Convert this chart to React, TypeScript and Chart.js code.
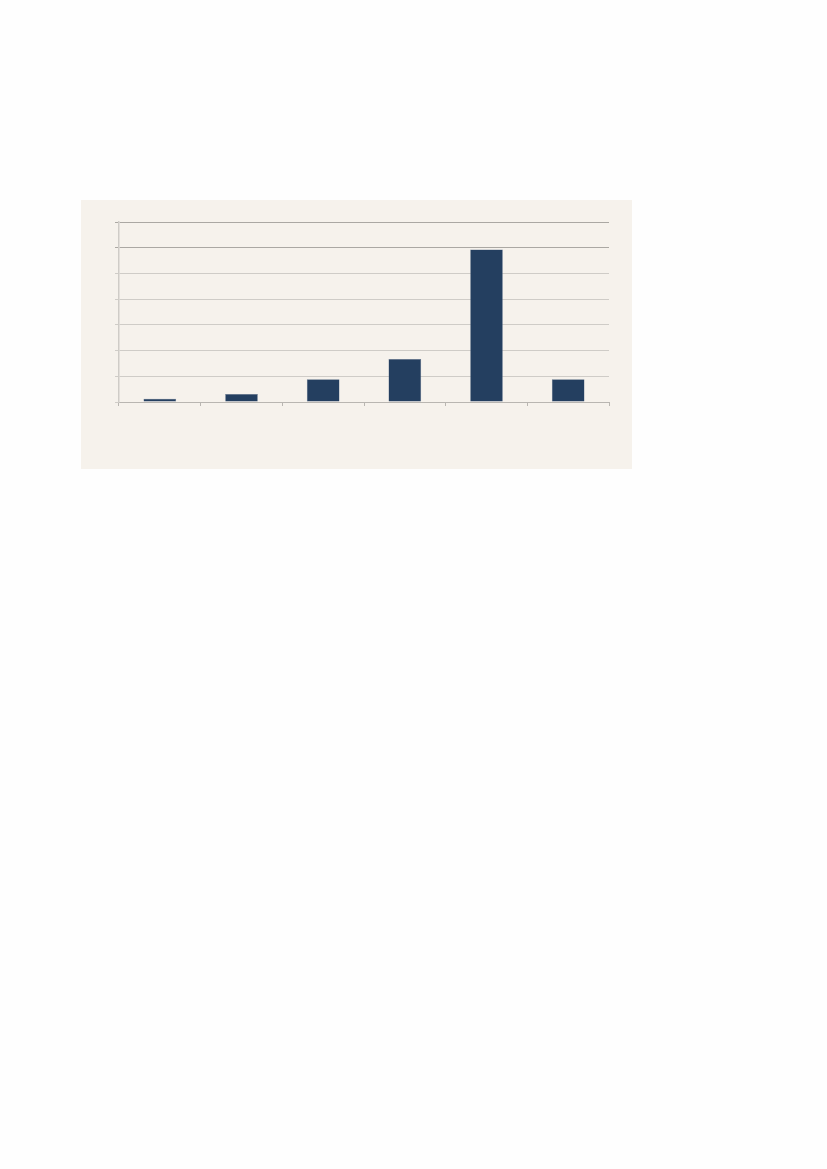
import React, { useEffect, useRef } from "react";
import { Chart, registerables } from "chart.js";

Chart.register(...registerables);

// no labels are printed in the source, so categories are placeholders
const categories = ["1", "2", "3", "4", "5", "6"];
const values = [1.3, 3.1, 8.8, 16.7, 59.3, 8.8];
const yTicks = [0, 10, 20, 30, 40, 50, 60, 70];

const BAR_COLOR = "#243f60";
const PANEL_BG = "#f6f2ec";

export default function App() {
  const canvasRef = useRef<HTMLCanvasElement>(null);
  const chartRef = useRef<Chart | null>(null);

  useEffect(() => {
    document.body.style.margin = "0";
    document.body.style.background = "#fefefe";
    if (!canvasRef.current) return;
    chartRef.current?.destroy();

    chartRef.current = new Chart(canvasRef.current, {
      type: "bar",
      data: {
        labels: categories,
        datasets: [
          {
            data: values,
            backgroundColor: BAR_COLOR,
            borderColor: "#5d7189",
            borderWidth: 0.5,
            categoryPercentage: 1,
            barPercentage: 0.4,
          },
        ],
      },
      options: {
        animation: false,
        responsive: true,
        maintainAspectRatio: false,
        layout: { padding: { left: 34, right: 23, top: 22, bottom: 63 } },
        plugins: {
          legend: { display: false },
          tooltip: { enabled: false },
        },
        scales: {
          x: {
            ticks: { display: false },
            grid: {
              offset: true,
              drawOnChartArea: false,
              drawTicks: true,
              tickLength: 4,
              color: "#b9b6b1",
            },
            border: { color: "#b9b6b1", width: 1 },
            afterFit: (scale) => {
              scale.height = 4;
            },
          },
          y: {
            min: yTicks[0],
            max: yTicks[yTicks.length - 1],
            afterBuildTicks: (scale) => {
              scale.ticks = yTicks.map((v) => ({ value: v }));
            },
            ticks: { display: false },
            grid: {
              drawTicks: true,
              tickLength: 4,
              color: (ctx) =>
                ctx.tick && ctx.tick.value >= 60 ? "#aba8a3" : "#cfccc7",
            },
            border: { color: "#cfccc7", width: 1.5 },
            afterFit: (scale) => {
              scale.width = 4;
            },
          },
        },
      },
    });

    return () => {
      chartRef.current?.destroy();
      chartRef.current = null;
    };
  }, []);

  return (
    <div style={{ position: "relative", width: 827, height: 1169 }}>
      <div
        style={{
          position: "absolute",
          left: 81,
          top: 200,
          width: 551,
          height: 269,
          background: PANEL_BG,
        }}
      >
        <canvas
          ref={canvasRef}
          role="img"
          aria-label="Bar chart with six categories"
        />
      </div>
    </div>
  );
}
